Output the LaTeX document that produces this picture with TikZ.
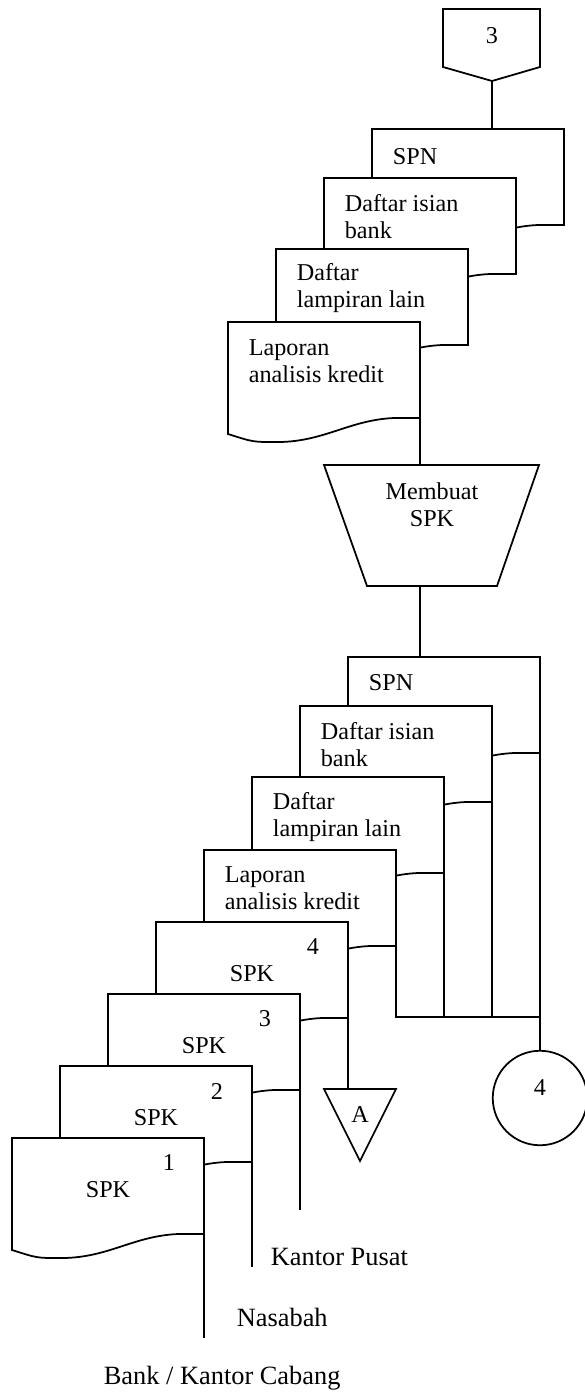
\documentclass[tikz,border=0pt]{standalone}
\usepackage{fontspec}
\setmainfont{Liberation Serif}
\tikzset{
  doktext/.style={anchor=west, align=left, inner sep=0pt, font=\fontsize{11}{12.4}\selectfont},
  labeltext/.style={anchor=west, inner sep=0pt, font=\fontsize{12}{14}\selectfont},
  pics/dokumen/.style 2 args={code={
    \draw[fill=white] (0,0) -- (192,0) -- (192,96) -- (166,96)
      .. controls (120,98) and (95,121) .. (46,120)
      .. controls (25,120) .. (0,112) -- cycle;
    \node[doktext] (-isi) at (20,#1) {#2};
    \coordinate (-atas) at (0,0);
    \coordinate (-kanan) at (192,96);
  }},
  pics/spkdok/.style={code={
    \draw[fill=white] (0,0) -- (192,0) -- (192,96) -- (166,96)
      .. controls (120,98) and (95,121) .. (46,120)
      .. controls (25,120) .. (0,112) -- cycle;
    \node[doktext, anchor=center] (-no) at (157,25) {#1};
    \node[doktext, anchor=center] (-isi) at (96,52) {SPK};
    \coordinate (-kanan) at (192,96);
  }}
}
\begin{document}
\begin{tikzpicture}[x=0.455pt, y=-0.455pt, line width=0.8pt]
                    \useasboundingbox (0,0) rectangle (585,1393);
                    % Off-page connector 3
                    \draw (443,9) -- (540,9) -- (540,67) -- (492,81) -- (443,67) -- cycle;
                    \node[doktext, anchor=center] (t3) at (492,36) {3};
                    \coordinate (off3) at (492,81);

                    % Upper stack of documents
                    \pic (spnA) at (372,129) {dokumen={28}{SPN}};
                    \pic (isianA) at (324,178) {dokumen={38.5}{Daftar isian\\bank}};
                    \pic (lampA) at (276,249) {dokumen={39}{Daftar\\lampiran lain}};
                    \pic (lapA) at (228,322) {dokumen={39}{Laporan\\analisis kredit}};
                    \draw (off3) -- (off3 |- spnA-atas);

                    % Manual operation
                    \draw (324,465) -- (539,465) -- (497,586) -- (367,586) -- cycle;
                    \node[doktext, anchor=center, align=center] (mk) at (432,505) {Membuat\\SPK};
                    \coordinate (mkatas) at (432,465);
                    \coordinate (mkbawah) at (432,586);
                    \draw (lapA-kanan) -- (lapA-kanan |- mkatas);

                    % Lower stack of documents
                    \pic (spnB) at (348,657) {dokumen={26}{SPN}};
                    \pic (isianB) at (300,706) {dokumen={38.5}{Daftar isian\\bank}};
                    \pic (lampB) at (252,777) {dokumen={40}{Daftar\\lampiran lain}};
                    \pic (lapB) at (204,850) {dokumen={38.5}{Laporan\\analisis kredit}};
                    \pic (spk4) at (156,922) {spkdok=4};
                    \pic (spk3) at (108,994) {spkdok=3};
                    \pic (spk2) at (60,1066) {spkdok=2};
                    \pic (spk1) at (12,1138) {spkdok=1};
                    \draw (lapA-kanan |- mkbawah) -- (lapA-kanan |- spnB-atas);

                    % Filing to connector 4
                    \node[circle, draw, minimum size=43pt, inner sep=0pt] (c4) at (540,1098) {};
                    \node[doktext, anchor=center] (t4) at (540,1088) {4};
                    \coordinate (gabung) at (540,1017);
                    \draw (spnB-kanan) -- (c4.north);
                    \draw (isianB-kanan) -- (isianB-kanan |- gabung);
                    \draw (lampB-kanan) -- (lampB-kanan |- gabung);
                    \draw (lapB-kanan) -- (lapB-kanan |- gabung) -- (gabung);

                    % Off-page connector A
                    \draw (324,1089) -- (396,1089) -- (360,1161) -- cycle;
                    \node[doktext, anchor=center] (tA) at (360,1115) {A};
                    \coordinate (segA) at (360,1089);
                    \draw (spk4-kanan) -- (spk4-kanan |- segA);

                    % Copies to the other parties
                    \coordinate (ujungKP) at (300,1210);
                    \coordinate (ujungNs) at (252,1267);
                    \coordinate (ujungBK) at (204,1338);
                    \draw (spk3-kanan) -- (ujungKP);
                    \draw (spk2-kanan) -- (ujungNs);
                    \draw (spk1-kanan) -- (ujungBK);

                    % Labels
                    \node[labeltext] (kp) at (270,1257) {Kantor Pusat};
                    \node[labeltext] (ns) at (236,1317) {Nasabah};
                    \node[labeltext] (bk) at (103,1378) {Bank / Kantor Cabang};
                \end{tikzpicture}
\end{document}
